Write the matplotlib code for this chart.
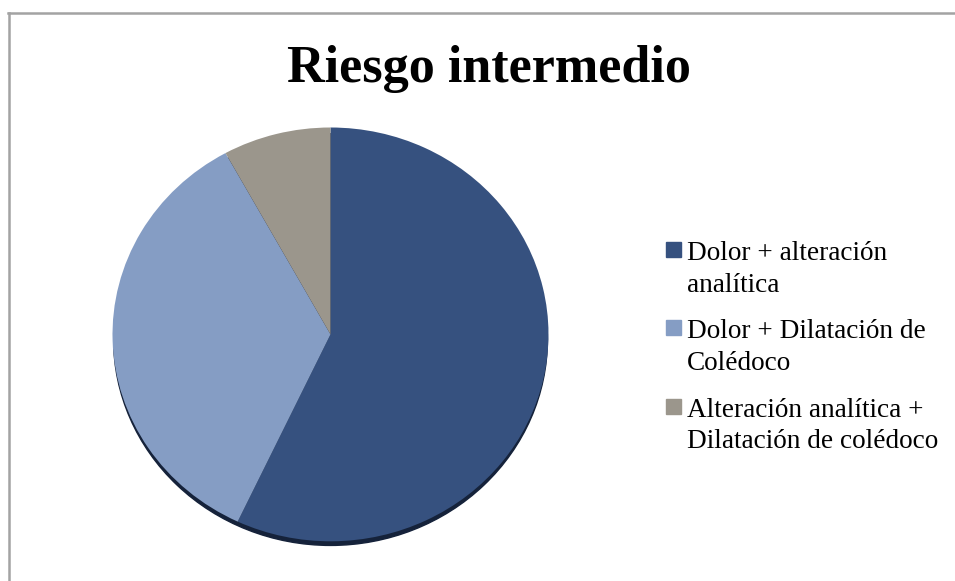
import matplotlib
matplotlib.use("Agg")
import matplotlib.pyplot as plt
from matplotlib.patches import Rectangle, Ellipse
from matplotlib.lines import Line2D

# Data
categories = [
    ["Dolor + alteración", "analítica"],
    ["Dolor + Dilatación de", "Colédoco"],
    ["Alteración analítica +", "Dilatación de colédoco"],
]
values = [57, 35, 8]
colors = ["#36517f", "#859dc4", "#9b968c"]
title = "Riesgo intermedio"

W, H = 955, 581
fig = plt.figure(figsize=(W / 100, H / 100), dpi=100)
fig.patch.set_facecolor("white")

# Chart frame: top and left edges
fig.add_artist(Line2D([8 / W, 1.0], [1 - 13 / H, 1 - 13 / H], color="#a3a3a3", lw=1.8,
                      transform=fig.transFigure))
fig.add_artist(Line2D([9 / W, 9 / W], [1 - 13 / H, 0.0], color="#a3a3a3", lw=1.8,
                      transform=fig.transFigure))

# Pie axes (slightly flattened ellipse)
cx, cy, rx, ry = 330.5, 337.5, 218, 210
ax = fig.add_axes([(cx - rx) / W, 1 - (cy + ry) / H, 2 * rx / W, 2 * ry / H])
ax.axis("off")

# Soft shadow at the bottom rim
ax.add_patch(Ellipse((0.0, -0.025), 1.99, 1.99, color="#15223a", zorder=0))

ax.pie(values, colors=colors, startangle=90, counterclock=False, radius=1.0,
       wedgeprops=dict(linewidth=0, antialiased=True), frame=False)
ax.set_xlim(-1, 1)
ax.set_ylim(-1.03, 1)
ax.set_aspect("auto")

# Title
fig.text(489 / W, 1 - 82 / H, title, ha="center", va="baseline",
         fontsize=37.5, fontweight="bold", family="Liberation Serif")

# Legend
baselines = [260, 338, 417]
line_gap = 31.5
for lines, col, b in zip(categories, colors, baselines):
    fig.add_artist(Rectangle((666 / W, 1 - (b - 3) / H), 15 / W, 15 / H,
                             transform=fig.transFigure, color=col))
    for i, txt in enumerate(lines):
        fig.text(687 / W, 1 - (b + i * line_gap) / H, txt, ha="left", va="baseline",
                 fontsize=19.6, family="Liberation Serif")

fig.savefig("out.png", dpi=100)
